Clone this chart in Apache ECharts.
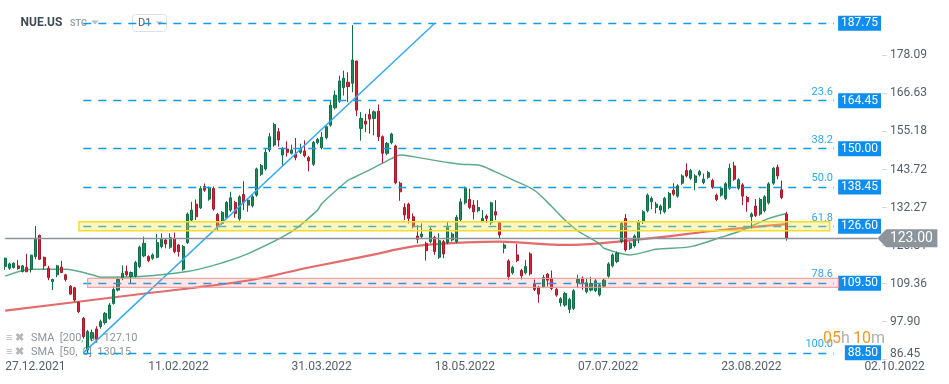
<!DOCTYPE html>
<html><head><meta charset="utf-8">
<script src="https://cdn.jsdelivr.net/npm/echarts@6/dist/echarts.min.js"></script>
<style>html,body{margin:0;padding:0;background:#fff}#c{width:949px;height:384px}</style>
</head><body><div id="c"></div>
<script>
// ---- data (daily bars from 27.12.2021) ----
const opens = [114.5,114.0,114.2,114.7,113.0,114.3,113.7,117.5,123.9,117.3,114.0,110.0,112.0,114.3,112.0,108.6,108.1,103.7,98.9,89.4,
92.9,95.7,96.4,97.6,98.9,103.4,107.4,111.2,113.0,111.5,111.6,114.5,117.7,117.5,117.0,117.3,120.5,122.5,120.3,123.0,
121.0,113.7,121.7,128.5,133.3,132.2,138.6,134.8,138.0,130.2,127.5,129.2,131.5,133.8,128.8,136.2,133.0,132.8,136.0,142.3,
143.9,149.6,151.1,155.1,148.1,149.9,148.6,148.3,148.9,149.3,147.3,145.3,151.8,150.3,153.3,157.1,162.3,164.3,168.4,170.0,
169.7,176.4,156.1,158.3,160.3,159.1,161.3,153.6,148.6,151.8,150.8,139.6,132.3,133.3,129.5,123.7,123.5,121.5,122.0,123.3,
117.3,122.0,121.7,122.5,122.0,128.7,133.7,134.7,133.0,131.3,128.2,129.7,127.7,131.0,127.7,120.0,116.2,112.6,118.0,113.3,
112.6,118.3,109.4,108.2,108.4,112.2,111.0,107.6,103.6,102.9,101.6,101.9,109.6,111.0,106.9,107.4,107.2,106.0,108.6,111.6,
114.7,116.0,122.0,129.0,120.0,120.7,123.0,128.0,131.3,134.0,132.3,131.5,131.0,132.3,137.5,135.7,139.6,143.4,141.1,139.8,
142.1,139.8,141.4,140.4,136.0,136.0,135.0,138.1,144.8,138.1,139.1,135.3,129.5,132.7,130.3,131.3,133.7,139.6,144.4,137.6,
130.3];
const closes = [117.0,115.3,115.5,113.9,114.7,112.9,117.9,123.0,116.7,114.7,111.2,110.6,114.7,112.7,110.6,106.2,104.4,100.9,93.4,94.9,
94.6,92.6,97.9,100.4,102.9,107.6,110.6,112.5,112.0,112.7,115.7,120.3,121.5,116.3,118.0,121.7,123.0,121.3,123.2,119.0,
119.0,120.5,130.3,131.5,129.5,138.0,137.5,138.2,131.8,126.5,130.8,133.8,135.2,130.5,135.5,133.8,134.5,135.5,143.9,144.9,
148.9,153.6,157.3,152.6,150.1,148.9,149.6,147.3,149.9,147.9,146.3,151.9,152.8,153.4,156.6,163.1,166.1,170.4,171.2,168.7,
176.7,161.6,159.1,157.4,158.9,161.1,153.6,148.6,151.6,154.4,139.7,137.0,130.0,129.0,126.5,122.7,124.3,119.3,125.7,119.0,
122.3,118.3,126.3,124.3,129.3,134.0,138.1,132.3,131.0,132.3,129.0,129.0,133.7,130.0,124.0,121.0,111.5,114.2,116.3,111.7,
114.5,112.3,107.6,106.2,111.2,110.4,107.9,105.9,104.8,106.4,104.6,107.2,110.6,109.4,109.6,109.4,110.2,108.9,110.4,115.3,
118.0,118.5,127.5,119.5,121.5,123.7,128.0,131.0,136.0,135.0,133.3,132.7,135.0,136.5,136.3,138.8,141.8,141.8,143.4,141.8,
143.1,140.8,142.8,138.4,134.7,138.1,139.4,144.1,140.8,140.6,135.7,134.0,130.3,129.9,134.7,135.5,139.4,144.1,141.8,135.3,
123.0];
const lows = [113.5,113.5,113.9,113.5,112.7,112.9,112.7,116.7,116.5,113.5,110.4,107.4,111.3,112.5,110.0,105.9,103.9,100.5,92.8,88.5,
92.0,91.8,95.8,97.0,98.5,103.0,107.0,110.4,111.5,109.5,111.2,114.0,117.3,115.8,116.5,117.0,120.0,120.0,119.8,118.5,
117.5,113.2,121.3,128.0,128.5,131.8,137.0,134.3,131.3,125.5,127.0,128.8,131.0,129.2,128.3,131.5,131.0,132.3,135.5,141.8,
143.4,149.0,150.6,150.6,144.9,147.6,148.2,146.5,148.4,147.4,143.2,144.8,151.3,149.8,152.8,156.6,161.8,163.8,166.0,164.0,
167.0,159.8,152.4,155.0,154.5,154.0,152.3,145.7,148.0,151.3,139.3,134.3,128.5,127.5,126.0,121.5,123.0,116.3,121.5,118.0,
116.8,117.0,121.2,122.0,121.5,128.2,133.2,131.8,128.7,130.8,127.7,127.6,127.0,128.5,122.8,118.5,110.5,112.1,115.8,110.6,
112.1,111.8,107.1,103.6,108.0,108.5,107.4,105.4,102.5,102.4,100.5,101.4,108.0,107.5,106.4,107.0,106.8,105.5,108.1,111.1,
114.2,115.5,121.5,119.0,119.5,120.2,121.5,127.3,130.8,131.8,130.5,130.2,130.5,131.8,135.8,135.2,139.1,141.3,140.6,137.5,
141.6,139.3,140.9,137.9,134.2,135.5,134.5,137.6,140.3,137.6,133.0,131.0,126.0,129.4,129.8,130.8,133.2,139.1,140.8,134.8,
122.3];
const highs = [117.2,115.7,115.8,116.5,115.0,118.3,118.1,126.7,124.1,117.5,114.7,110.8,115.0,116.2,112.3,108.9,108.4,104.0,99.3,95.4,
95.5,96.5,98.5,100.8,103.5,108.5,111.2,114.8,114.8,113.0,116.2,120.8,123.5,117.9,118.5,124.3,124.5,122.9,124.5,124.7,
121.3,121.0,130.8,134.0,134.7,138.7,139.5,138.6,138.6,130.6,131.2,134.2,137.0,134.3,136.0,140.2,135.0,136.0,144.3,145.4,
150.0,154.7,157.8,156.2,150.5,152.2,151.2,153.2,151.5,152.5,147.8,152.3,153.2,155.0,157.0,164.5,167.5,172.0,173.5,173.0,
187.2,176.5,161.0,160.5,162.0,161.5,163.3,154.0,152.0,154.8,151.2,140.1,133.5,133.7,130.5,127.0,127.5,122.0,126.5,123.8,
124.5,122.5,128.0,124.8,130.0,135.0,138.6,138.0,134.5,134.5,131.5,130.2,134.0,134.5,128.2,121.5,116.7,114.7,121.3,113.8,
116.5,118.8,110.6,108.7,112.0,112.6,113.3,108.0,105.3,106.9,105.1,107.7,112.0,111.5,111.0,111.4,110.7,109.3,110.9,115.8,
118.5,119.0,128.0,130.3,122.0,124.2,128.5,131.5,136.5,135.6,134.0,133.2,135.5,137.0,139.6,139.3,142.3,145.6,143.9,142.3,
143.6,142.5,143.3,140.9,136.5,138.6,139.9,145.5,146.0,141.1,139.6,135.8,130.8,134.8,135.2,136.0,139.9,144.5,145.2,140.4,
131.0];
const sma200 = [[0,101.2],[28,105.7],[56,110.3],[70,114.2],[86,118.4],[90,119.6],[97,121.0],[114,122.0],[129,121.0],[137,121.5],[150,123.2],[165,125.5],[180,127.3]];
const sma50 = [[0,111.6],[6,113.7],[14,113.7],[20,112.0],[22,111.3],[30,111.4],[36,112.0],[42,113.0],[45,113.8],[50,115.6],[56,118.4],[66,125.0],[72,131.5],[73,133.5],[79,140.5],[80,141.1],[85,144.3],[89,147.0],[91,148.1],[94,147.6],[102,145.8],[105,145.3],[109,145.1],[113,143.0],[117,140.6],[122,137.4],[126,132.5],[129,128.5],[132,125.2],[135,122.9],[137,121.3],[138,120.0],[144,118.0],[150,119.7],[158,120.5],[165,123.3],[170,125.5],[176,129.0],[180,130.5]];
const trendLine = [[18,88.5],[99,187.75]];
const fibLevels = [187.75,164.45,150.00,138.45,126.60,109.50,88.50];
const fibRatios = ['','23.6','38.2','50.0','61.8','78.6','100.0'];
const fibStart = 18, fibEnd = 191;
const yellowZone = [125.3,128.0], yellowSpan = [17,190];
const pinkZone = [108.24,110.95], pinkSpan = [19,192];
const lastPrice = 123.00;
const yTicks = [86.45,97.90,109.36,120.81,132.27,143.72,155.18,166.63,178.09];
const dateLabels = ['27.12.2021','11.02.2022','31.03.2022','18.05.2022','07.07.2022','23.08.2022','02.10.2022'];
const dateLabelIdx = [0,33,66,99,132,165,198];
const slotCount = 218;
const categories = Array.from({length: slotCount}, (_, i) => String(i));

const candleData = opens.map((o, i) => [o, closes[i], lows[i], highs[i]]);
const labelMap = {};
dateLabelIdx.forEach((k, i) => { labelMap[k] = dateLabels[i]; });

const chart = echarts.init(document.getElementById('c'), null, {renderer: 'canvas'});
const FONT = 'Roboto, "Noto Sans", sans-serif';
chart.setOption({
  animation: false,
  textStyle: {fontFamily: FONT},
  grid: {left: 3, right: 0, top: 0, height: 362},
  xAxis: {
    type: 'category', data: categories, boundaryGap: true,
    axisLine: {show: false}, axisTick: {show: false}, splitLine: {show: false},
    axisLabel: {
      interval: (idx) => labelMap[idx] !== undefined,
      formatter: (v, idx) => labelMap[idx] || '',
      align: 'left', verticalAlign: 'middle', margin: 5,
      color: '#566069', fontSize: 12, fontFamily: FONT
    }
  },
  yAxis: {
    type: 'value', position: 'right', offset: -67,
    min: 85.75, max: 194.77, scale: true,
    splitLine: {show: false}, axisLine: {show: false},
    axisTick: {show: true, length: 5, customValues: yTicks, lineStyle: {color: '#d5d8db'}},
    axisLabel: {
      customValues: yTicks, margin: 8, color: '#566069', fontSize: 12, fontFamily: FONT,
      formatter: (v) => Math.abs(v - yTicks[0]) < 1e-6 ? '{lo|' + v.toFixed(2) + '}' : v.toFixed(2),
      rich: {lo: {padding: [0, 0, 12, 0], color: '#566069', fontSize: 12, fontFamily: FONT}}
    }
  },
  graphic: [
    {type: 'text', x: 20.5, y: 23, z: 0, style: {text: 'NUE.US', font: 'bold 12px ' + FONT, fill: '#3f4a54', verticalAlign: 'middle'}},
    {type: 'text', x: 70, y: 23.5, z: 0, style: {text: 'STC', font: 'bold 9px ' + FONT, fill: '#9aa3ab', verticalAlign: 'middle'}},
    {type: 'polygon', z: 0, shape: {points: [[91, 20.5], [99, 20.5], [95, 24.5]]}, style: {fill: '#b8bfc5'}},
    {type: 'rect', z: 0, shape: {x: 132.5, y: 14.5, width: 34, height: 17, r: 3}, style: {fill: 'none', stroke: '#dde1e4', lineWidth: 1}},
    {type: 'text', x: 138, y: 23.5, z: 0, style: {text: 'D1', font: '11px ' + FONT, fill: '#56616b', verticalAlign: 'middle'}},
    {type: 'polygon', z: 0, shape: {points: [[156, 21.5], [163, 21.5], [159.5, 25]]}, style: {fill: '#b8bfc5'}},
    {type: 'text', x: 6, y: 338.5, z: 0, style: {text: '≡ ✖', font: 'bold 11px ' + FONT, fill: '#b3b8bd', verticalAlign: 'middle'}},
    {type: 'text', x: 31, y: 338.5, z: 0, style: {text: 'SMA  [200,  0]  127.10', font: '11px ' + FONT, fill: '#8f959a', verticalAlign: 'middle'}},
    {type: 'text', x: 6, y: 352, z: 0, style: {text: '≡ ✖', font: 'bold 11px ' + FONT, fill: '#b3b8bd', verticalAlign: 'middle'}},
    {type: 'text', x: 31, y: 352, z: 0, style: {text: 'SMA  [50,  0]  130.15', font: '11px ' + FONT, fill: '#8f959a', verticalAlign: 'middle'}},
    {type: 'text', x: 823, y: 339, z: 50, style: {
      text: '{o|05}{g|h} {o|10}{g|m}', verticalAlign: 'middle',
      rich: {o: {fill: '#f39a26', fontSize: 16, fontFamily: FONT}, g: {fill: '#b4b0aa', fontSize: 16, fontFamily: FONT}}
    }}
  ],
  series: [
    {type: 'line', name: 'SMA200', data: sma200, symbol: 'none', smooth: 0.3, z: 2, silent: true,
     lineStyle: {color: '#e15b5b', width: 2.2, opacity: 0.9}},
    {type: 'line', name: 'SMA50', data: sma50, symbol: 'none', smooth: 0.3, z: 2, silent: true,
     lineStyle: {color: '#3f9c72', width: 1.5, opacity: 0.85},
     markLine: {
       silent: true, symbol: ['none', 'none'], z: 6,
       lineStyle: {width: 1, color: 'rgba(0,0,0,0)', type: 'solid'},
       label: {show: true, position: 'insideEndTop', distance: [1, 3], color: '#2ea6ef', fontSize: 11, fontFamily: FONT},
       data: fibLevels.map((v, i) => [{coord: [fibStart, v]}, {coord: [fibEnd, v], label: {formatter: fibRatios[i], show: fibRatios[i] !== ''}}])
     }},
    {type: 'candlestick', name: 'NUE.US', data: candleData, barWidth: 2.6, z: 3, silent: true,
     itemStyle: {color: '#1c8c5e', color0: '#d4243a', borderColor: '#0f6e46', borderColor0: '#a8192b', borderWidth: 1}},
    {type: 'line', name: 'trend', data: trendLine, symbol: 'none', z: 4, silent: true,
     lineStyle: {color: '#35aaf2', width: 1.5},
     markLine: {
       silent: true, symbol: ['none', 'none'], z: 4,
       lineStyle: {color: '#149be7', width: 1.4, type: [8, 7]},
       label: {show: true, position: 'end', align: 'right', verticalAlign: 'middle', distance: 47,
               backgroundColor: '#0d8ef0', color: '#ffffff', fontSize: 12, fontFamily: FONT, padding: [2, 3, 1, 3]},
       data: fibLevels.map(v => [{coord: [fibStart, v]}, {coord: [fibEnd, v], label: {formatter: v.toFixed(2)}}])
     }},
    {type: 'line', name: 'zones', data: trendLine, symbol: 'none', z: 10, silent: true,
     lineStyle: {opacity: 0},
     markArea: {
       silent: true, z: 10,
       data: [
         [{coord: [yellowSpan[0], yellowZone[0]], itemStyle: {color: 'rgba(255,228,45,0.30)', borderColor: '#f3dc2e', borderWidth: 1.5}},
          {coord: [yellowSpan[1], yellowZone[1]]}],
         [{coord: [pinkSpan[0], pinkZone[0]], itemStyle: {color: 'rgba(238,110,110,0.17)', borderColor: 'rgba(240,150,150,0.85)', borderWidth: 1.2}},
          {coord: [pinkSpan[1], pinkZone[1]]}]
       ]
     },
     markLine: {
       silent: true, symbol: ['none', 'none'], z: 11,
       lineStyle: {color: '#8a9398', width: 1.3, type: 'solid'},
       label: {show: false},
       data: [[{coord: [0, lastPrice]}, {coord: [201, lastPrice]}]]
     },
     markPoint: {
       silent: true, z: 12,
       symbol: 'path://M0,9L9,0L62,0L62,18L9,18Z', symbolSize: [60, 18], symbolKeepAspect: false,
       symbolOffset: ['50%', 0],
       itemStyle: {color: '#8c959b'},
       label: {show: true, position: 'inside', offset: [4, 0], color: '#ffffff', fontSize: 14, fontFamily: FONT,
               formatter: () => lastPrice.toFixed(2)},
       data: [{coord: [201, lastPrice]}]
     }}
  ]
});
</script>
</body></html>
